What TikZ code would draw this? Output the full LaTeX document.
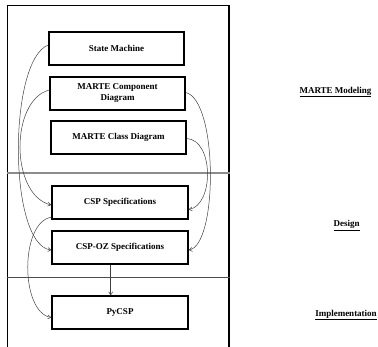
\documentclass[tikz,border=0pt]{standalone}
\usepackage{fontspec}
\setmainfont{Liberation Serif}
\usetikzlibrary{arrows.meta}
\begin{document}
\begin{tikzpicture}[x=1pt,y=-1pt,
  box/.style={draw=black,line width=1.4pt,fill=white,minimum width=135pt,minimum height=33pt,inner sep=1pt,align=center,font=\fontsize{9}{11}\selectfont\bfseries},
  lbl/.style={font=\fontsize{9}{10.5}\selectfont\bfseries,inner sep=0pt},
  conn/.style={draw=black!75,line width=0.5pt,-{Straight Barb[length=3pt,width=4pt]}},
  frame/.style={draw=black,line width=1.3pt},
  sep1/.style={draw=black!45,line width=1.2pt},
  sep2/.style={draw=black!70,line width=0.8pt}]
\useasboundingbox (0,0) rectangle (378,346);
% frame
\coordinate (fbl) at (7.3,350);
\coordinate (ftl) at (7.3,5.5);
\coordinate (ftr) at (229,5.5);
\coordinate (fbr) at (229,350);
\draw[frame] (fbl) -- (ftl) -- (ftr) -- (fbr);
% separators
\coordinate (s1l) at (7,173); \coordinate (s1r) at (230,173);
\coordinate (s2l) at (7,277); \coordinate (s2r) at (230,277);
\draw[sep1] (s1l) -- (s1r);
\draw[sep2] (s2l) -- (s2r);
% boxes
\node[box] (sm) at (116.5,48.5) {State Machine};
\node[box] (comp) at (117.5,93.5) {MARTE Component\\Diagram};
\node[box] (cls) at (118.5,137.5) {MARTE Class Diagram};
\node[box,minimum width=136pt] (csp) at (120,202.5) {CSP Specifications};
\node[box,minimum width=136pt] (oz) at (120,247.5) {CSP-OZ Specifications};
\node[box,minimum width=136pt] (py) at (120,312.5) {PyCSP};
% stage labels
\node[lbl] (l1) at (335.5,92) {\underline{MARTE Modeling}};
\node[lbl] (l2) at (346.7,225.7) {\underline{Design}};
\node[lbl] (l3) at (346,315) {\underline{Implementation}};
% connectors
\draw[conn] ([yshift=3.5pt]sm.west) .. controls (8,60) and (8,245) .. ([yshift=-2.5pt]oz.west);
\draw[conn] ([yshift=3.5pt]comp.west) .. controls (10,100) and (10,195) .. ([yshift=-2.5pt]csp.west);
\draw[conn] ([yshift=1pt]comp.east) .. controls (218,100) and (218,245) .. ([yshift=-2.5pt]oz.east);
\draw[conn] ([yshift=-1pt]cls.east) .. controls (214,140) and (214,205) .. ([yshift=-7pt]csp.east);
\draw[conn] ([yshift=2.5pt]csp.south west) .. controls (20,222) and (20,312) .. ([yshift=-5pt]py.west);
\draw[conn] ([xshift=-9.3pt]oz.south) -- ([xshift=-9.3pt]py.north);
\end{tikzpicture}
\end{document}
